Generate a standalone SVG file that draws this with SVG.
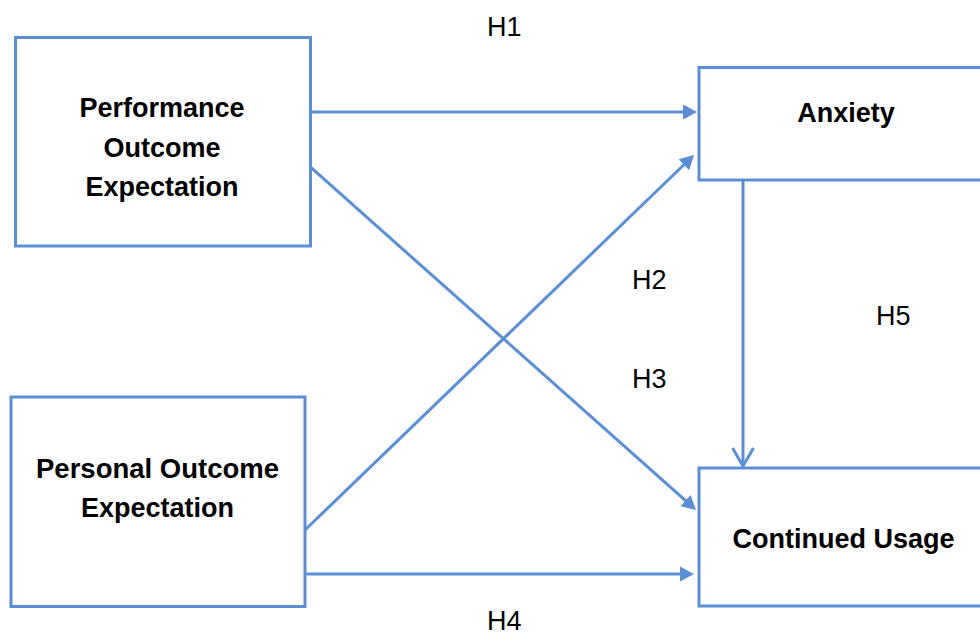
<svg xmlns="http://www.w3.org/2000/svg" width="980" height="632" viewBox="0 0 980 632">
<style>
.box{fill:#fff;stroke:#5B8FD5;stroke-width:3}
.node{font-family:"Liberation Sans",Arial,sans-serif;font-weight:bold;font-size:27px;fill:#000;text-anchor:middle}
.lbl{font-family:"Liberation Sans",Arial,sans-serif;font-size:27px;fill:#000}
.conn{stroke:#5B8FD5;stroke-width:3;fill:none}
</style>
<defs>
<marker id="tri" markerUnits="userSpaceOnUse" markerWidth="15" markerHeight="16" refX="9" refY="7.5" orient="auto" overflow="visible">
<path d="M0,0 L14,7.5 L0,15 z" fill="#5B8FD5"/>
</marker>
<marker id="vee" markerUnits="userSpaceOnUse" markerWidth="20" markerHeight="22" refX="18" refY="10.5" orient="auto" overflow="visible">
<path d="M0,0 L18,10.5 L0,21" fill="none" stroke="#5B8FD5" stroke-width="3"/>
</marker>
</defs>
<rect width="980" height="632" fill="#fff"/>
<g id="connectors">
<line class="conn" x1="311" y1="112" x2="692" y2="112" marker-end="url(#tri)"/>
<line class="conn" x1="305" y1="530" x2="690.4" y2="158.5" marker-end="url(#tri)"/>
<line class="conn" x1="310" y1="166.7" x2="692.3" y2="506.7" marker-end="url(#tri)"/>
<line class="conn" x1="305" y1="574" x2="689" y2="574" marker-end="url(#tri)"/>
<line class="conn" x1="743" y1="180" x2="743" y2="466" marker-end="url(#vee)"/>
</g>
<g id="performance">
<rect class="box" x="15.5" y="37.5" width="295" height="208.5"/>
<text class="node" x="162" y="117">Performance</text>
<text class="node" x="162" y="157">Outcome</text>
<text class="node" x="162" y="196">Expectation</text>
</g>
<g id="personal">
<rect class="box" x="11" y="397" width="294" height="209.5"/>
<text class="node" x="157.5" y="478" textLength="243" lengthAdjust="spacingAndGlyphs">Personal Outcome</text>
<text class="node" x="157.5" y="517">Expectation</text>
</g>
<g id="anxiety">
<rect class="box" x="699" y="67.5" width="295" height="112.5"/>
<text class="node" x="846" y="122">Anxiety</text>
</g>
<g id="continued">
<rect class="box" x="699" y="468" width="295" height="138"/>
<text class="node" x="843.5" y="548">Continued Usage</text>
</g>
<g id="labels">
<text class="lbl" x="487" y="36">H1</text>
<text class="lbl" x="632" y="289">H2</text>
<text class="lbl" x="632" y="388">H3</text>
<text class="lbl" x="876" y="325">H5</text>
<text class="lbl" x="487" y="630">H4</text>
</g>
</svg>
